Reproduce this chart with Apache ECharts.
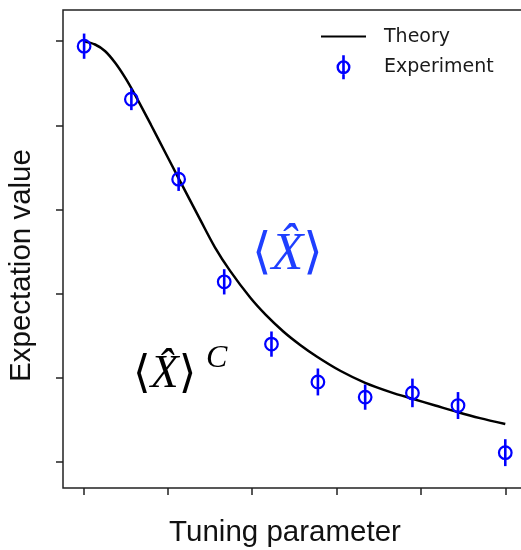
<!DOCTYPE html>
<html>
<head>
<meta charset="utf-8">
<script src="https://cdn.jsdelivr.net/npm/echarts@6/dist/echarts.min.js"></script>
<style>
html,body{margin:0;padding:0;background:#fff;}
#chart{width:521px;height:550px;}
</style>
</head>
<body>
<div id="chart"></div>
<script>
// theory curve (arbitrary units)
const theoryX = [0, 0.14, 0.26, 0.38, 0.50, 0.62, 0.80, 0.97, 1.13, 1.39, 1.56, 1.74, 1.98, 2.16, 2.37, 2.57,
    2.77, 3.05, 3.34, 3.64, 3.90, 4.17, 4.44, 4.70, 5.00];
const theoryY = [5.00, 4.96, 4.88, 4.74, 4.56, 4.35, 4.01, 3.68, 3.37, 2.87, 2.55, 2.27, 1.95, 1.75, 1.55, 1.39,
    1.25, 1.08, 0.94, 0.83, 0.75, 0.67, 0.59, 0.52, 0.45];

// experiment points with error bars
const exptX = [0.01, 0.57, 1.13, 1.67, 2.23, 2.78, 3.34, 3.90, 4.44, 5.0];
const exptY = [4.94, 4.31, 3.36, 2.14, 1.40, 0.95, 0.77, 0.82, 0.67, 0.11];
const exptErr = [0.15, 0.13, 0.14, 0.15, 0.15, 0.16, 0.15, 0.17, 0.16, 0.16];

const xTicks = [0, 1, 2, 3, 4, 5];
const yTicks = [0, 1, 2, 3, 4, 5];

const blue = '#0000ff';
const frame = '#222';

// phi-shaped legend icon: ring + vertical bar
const phiIcon = 'path://M5.8 0L8.2 0L8.2 22L5.8 22Z' +
    'M0.6 11A6.4 6.4 0 1 1 13.4 11A6.4 6.4 0 1 1 0.6 11Z' +
    'M2.8 11A4.2 4.2 0 1 0 11.2 11A4.2 4.2 0 1 0 2.8 11Z';

const chart = echarts.init(document.getElementById('chart'));

const option = {
    animation: false,
    grid: {
        left: 63, top: 10, right: -2, bottom: 62,
        outerBoundsMode: 'none',
        containLabel: false,
        show: true, borderColor: frame, borderWidth: 1.5
    },
    legend: {
        left: 320, top: 27, padding: 0,
        orient: 'vertical',
        itemWidth: 45, itemHeight: 24, itemGap: 9,
        selectedMode: false,
        textStyle: {
            fontFamily: 'DejaVu Sans', fontSize: 19, color: '#1a1a1a',
            padding: [0, 0, 0, 13]
        },
        data: [
            {name: 'Theory', itemStyle: {opacity: 0}},
            {name: 'Experiment', icon: phiIcon}
        ]
    },
    xAxis: {
        type: 'value', min: -0.24, max: 5.21,
        name: 'Tuning parameter', nameLocation: 'middle', nameGap: 30,
        nameTextStyle: {
            fontFamily: 'Liberation Sans', fontSize: 29.5, color: '#111',
            padding: [0, 16, 0, 0]
        },
        axisLine: {show: false, onZero: false},
        axisTick: {show: true, customValues: xTicks, length: 7, lineStyle: {color: frame, width: 1.5}},
        axisLabel: {show: false},
        splitLine: {show: false}
    },
    yAxis: {
        type: 'value', min: -0.31, max: 5.37,
        name: 'Expectation value', nameLocation: 'middle', nameGap: 26,
        nameTextStyle: {
            fontFamily: 'Liberation Sans', fontSize: 29.5, color: '#111',
            padding: [0, 33, 0, 0]
        },
        axisLine: {show: false, onZero: false},
        axisTick: {show: true, customValues: yTicks, length: 7, lineStyle: {color: frame, width: 1.5}},
        axisLabel: {show: false},
        splitLine: {show: false}
    },
    series: [
        {
            name: 'Theory',
            type: 'line',
            symbol: 'none',
            smooth: 0.3,
            lineStyle: {color: '#000', width: 2.5},
            itemStyle: {color: '#000'},
            data: theoryX.map((x, i) => [x, theoryY[i]]),
            z: 2
        },
        {
            name: 'Experiment',
            type: 'custom',
            itemStyle: {color: blue},
            encode: {x: 0, y: 1},
            data: exptX.map((x, i) => [x, exptY[i], exptErr[i]]),
            renderItem: function (params, api) {
                const x = api.value(0), y = api.value(1), e = api.value(2);
                const c = api.coord([x, y]);
                const hi = api.coord([x, y + e]);
                const lo = api.coord([x, y - e]);
                return {
                    type: 'group',
                    children: [
                        {
                            type: 'line',
                            shape: {x1: c[0], y1: hi[1], x2: c[0], y2: lo[1]},
                            style: {stroke: blue, lineWidth: 2.6}
                        },
                        {
                            type: 'circle',
                            shape: {cx: c[0], cy: c[1], r: 6.3},
                            style: {fill: 'none', stroke: blue, lineWidth: 2.2}
                        }
                    ]
                };
            },
            z: 3
        }
    ],
    graphic: [
        {
            type: 'text', left: 252, top: 229,
            style: {
                text: '{a|⟨}{x|X\u0302}{a|⟩}',
                rich: {
                    a: {fontFamily: 'DejaVu Serif', fontSize: 50, fill: '#1f3fff'},
                    x: {fontFamily: 'Liberation Serif', fontStyle: 'italic', fontSize: 52, fill: '#1f3fff'}
                }
            }
        },
        {
            type: 'text', left: 133, top: 352,
            style: {
                text: '{a|⟨}{x|X\u0302}{a|⟩}',
                rich: {
                    a: {fontFamily: 'DejaVu Serif', fontSize: 45, fill: '#000'},
                    x: {fontFamily: 'Liberation Serif', fontStyle: 'italic', fontSize: 46, fill: '#000'}
                }
            }
        },
        {
            type: 'text', left: 206, top: 343,
            style: {
                text: 'C',
                fontFamily: 'Liberation Serif', fontStyle: 'italic', fontSize: 32, fill: '#000'
            }
        }
    ]
};

chart.setOption(option);
</script>
</body>
</html>
